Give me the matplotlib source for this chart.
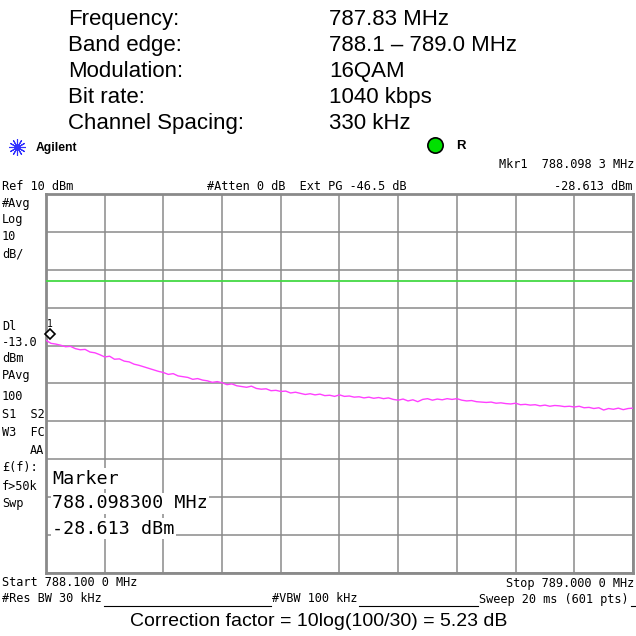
"""Spectrum analyzer screen capture: out-of-band emission at 788.1-789.0 MHz."""
import matplotlib
matplotlib.use("Agg")
import matplotlib.pyplot as plt
import matplotlib.transforms as mtransforms
from matplotlib.lines import Line2D
import numpy as np

# header table
hdr_labels = ["Frequency:", "Band edge:", "Modulation:", "Bit rate:", "Channel Spacing:"]
hdr_values = ["787.83 MHz", "788.1 \u2013 789.0 MHz", "16QAM", "1040 kbps", "330 kHz"]

# analyzer settings
f_start, f_stop = 788.1, 789.0   # MHz
ref_level, db_div = 10, 10       # dBm, dB/div
display_line = -13.0             # dBm
mkr_freq, mkr_level = 788.0983, -28.613

# averaged trace, every 5th of 601 sweep points (dBm)
trace = [
    -28.6, -29.4, -29.6, -29.9, -30.3, -30.2, -30.8, -31.1, -31.0, -31.7, -31.9, -32.4,
    -33.0, -32.8, -33.6, -33.5, -34.1, -34.3, -34.9, -35.2, -35.6, -36.0, -36.4, -36.8,
    -37.1, -37.6, -37.4, -38.0, -38.2, -38.4, -38.9, -38.7, -39.1, -39.3, -39.7, -39.5,
    -39.8, -40.3, -40.1, -40.6, -40.8, -41.0, -40.7, -41.3, -41.5, -41.4, -41.9, -41.8,
    -42.1, -42.0, -42.5, -42.3, -42.6, -42.9, -42.7, -43.0, -42.8, -43.2, -43.1, -43.4,
    -43.0, -43.4, -43.3, -43.6, -43.5, -43.8, -43.6, -43.9, -43.7, -44.0, -43.8, -44.2,
    -44.4, -44.1, -44.6, -44.3, -44.8, -44.2, -44.0, -44.4, -44.1, -44.3, -44.0, -44.2,
    -44.0, -44.4, -44.6, -44.5, -44.8, -44.9, -45.0, -44.9, -45.2, -45.1, -45.3, -45.4,
    -45.2, -45.6, -45.5, -45.7, -45.6, -45.9, -45.7, -46.0, -45.8, -45.9, -46.1, -46.0,
    -46.2, -46.0, -46.4, -46.3, -46.6, -46.4, -47.0, -46.6, -46.8, -46.5, -46.9, -46.6,
    -46.5,
]
freqs = np.linspace(f_start, f_stop, len(trace))

W = H = 636
MONO = "DejaVu Sans Mono"
SANS = "Liberation Sans"
FS = 8.6


def px(x, y):
    return x / W, 1 - y / H


def mono(x, y, s, **kw):
    # y is the visual centre of capitals; draw on the baseline
    fig.text(*px(x, y + 4.5), s, fontsize=FS, family=MONO, va="baseline", **kw)


fig = plt.figure(figsize=(W / 100, H / 100), dpi=100)
fig.patch.set_facecolor("white")

# header block
for i, (lab, val) in enumerate(zip(hdr_labels, hdr_values)):
    yb = 25 + 26 * i
    fig.text(*px(68, yb), lab, fontsize=16, family=SANS, va="baseline")
    fig.text(*px(329, yb), val, fontsize=16, family=SANS, va="baseline")

# Agilent logo + status
fig.add_artist(Line2D([17 / W], [1 - 147 / H], marker=(12, 2, 0), markersize=12,
                      color="#3030ff", mew=0.8, transform=fig.transFigure))
fig.text(*px(36, 151), "Agilent", fontsize=8.7, family=SANS, weight="bold", va="baseline")
fig.add_artist(Line2D([435 / W], [1 - 145 / H], marker="o", markersize=11,
                      mfc="#00e000", mec="black", mew=1.2, transform=fig.transFigure))
fig.text(*px(456, 149), "R", fontsize=9.5, family=SANS, weight="bold", va="baseline")

# top annotation rows
mono(634, 163, f"Mkr1  {mkr_freq:.3f} 3 MHz", ha="right")
mono(2, 185, f"Ref {ref_level} dBm")
mono(207, 185, "#Atten 0 dB  Ext PG -46.5 dB")
mono(632, 185, f"{mkr_level:.3f} dBm", ha="right")

# left annotation column
left_col = [("#Avg", 202), ("Log", 219), ("10", 236), ("dB/", 253),
            ("Dl", 325), (f"{display_line:.1f}", 341), ("dBm", 357),
            ("PAvg", 375), ("100", 396), ("S1  S2", 413), ("W3  FC", 431),
            ("\u00a3(f):", 467), ("f>50k", 485), ("Swp", 503)]
for s, y in left_col:
    mono(2, y, s)
mono(44, 449, "AA", ha="right")

# plot area
ax = fig.add_axes([46 / W, 1 - 573 / H, 587 / W, 379 / H])
ax.set_xlim(f_start, f_stop)
ax.set_ylim(ref_level - 10 * db_div, ref_level)
ax.set_xticks(np.linspace(f_start, f_stop, 11))
ax.set_yticks(np.arange(ref_level - 10 * db_div, ref_level + 1, db_div))
ax.tick_params(length=0, labelbottom=False, labelleft=False)
ax.grid(True, color="#8a8a8a", linewidth=1.1)
for sp in ax.spines.values():
    sp.set_color("#8a8a8a")
    sp.set_linewidth(2)

ax.axhline(display_line, color="#44d944", linewidth=1.3, zorder=3)
ax.plot(freqs, trace, color="#ff40ff", linewidth=1.0, zorder=4)

# marker diamond above first trace point
off = mtransforms.offset_copy(ax.transData, fig=fig, x=4, y=6, units="dots")
ax.plot([freqs[0]], [trace[0]], marker="D", markersize=5, mfc="white", mec="black",
        mew=1.2, transform=off, zorder=5, clip_on=False)
off1 = mtransforms.offset_copy(ax.transData, fig=fig, x=4, y=16, units="dots")
ax.text(freqs[0], trace[0], "1", fontsize=7, family=MONO, ha="center", va="center",
        transform=off1)

# marker readout box
mk_lines = ["Marker", f"{mkr_freq:.6f} MHz", f"{mkr_level:.3f} dBm"]
for s, y in zip(mk_lines, [477, 502, 527]):
    fig.text(*px(52, y + 6.5), s, fontsize=13.2, family=MONO, va="baseline", zorder=10,
             bbox=dict(facecolor="white", edgecolor="none", pad=1))

# bottom annotation rows
mono(2, 582, f"Start {f_start:.3f} 0 MHz")
mono(634, 582, f"Stop {f_stop:.3f} 0 MHz", ha="right")
mono(2, 598, "#Res BW 30 kHz")
mono(272, 598, "#VBW 100 kHz")
mono(479, 598, "Sweep 20 ms (601 pts)")
for x0, x1 in [(104, 271), (359, 478), (631, 636)]:
    fig.add_artist(Line2D([x0 / W, x1 / W], [1 - 606 / H] * 2, color="black",
                          linewidth=0.8, transform=fig.transFigure))

fig.text(*px(319, 626), "Correction factor = 10log(100/30) = 5.23 dB", fontsize=14,
         family=SANS, ha="center", va="baseline")

fig.savefig("out.png", dpi=100)
